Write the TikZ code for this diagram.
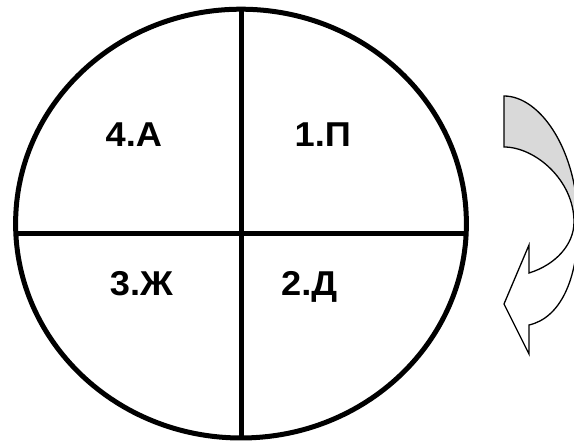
\documentclass[tikz,border=0pt]{standalone}
\usepackage{fontspec}
\setmainfont{Liberation Sans}
\definecolor{arrowgray}{HTML}{D9D9D9}
\newcommand\arrowoutline{(504,96) .. controls (540,96) and (578,150) .. (578,225) .. controls (578,280) and (560,318) .. (529,325) -- (529,354) -- (504,304) -- (529,245) -- (529,273) .. controls (555,265) and (574,245) .. (574,222) .. controls (574,180) and (535,147) .. (504,147) -- cycle}
\begin{document}
\begin{tikzpicture}[x=1pt,y=-1pt,
  lbl/.style={anchor=base west, inner sep=0pt, font=\fontsize{34.5}{40}\selectfont\bfseries},
  thick line/.style={line width=5pt}]
\useasboundingbox (0,0) rectangle (574,443);
\clip (0,0) rectangle (574,443);
\fill[white] (0,0) rectangle (574,443);
% circle divided into quarters
\draw[thick line] (241,223.6) ellipse [x radius=225.4, y radius=214.4];
\coordinate (top) at (241,9.2);
\coordinate (bot) at (241,438);
\coordinate (lft) at (16,234);
\coordinate (rgt) at (466,234);
\draw[thick line] (top) -- (bot);
\draw[thick line] (lft) -- (rgt);
\node[lbl] (a4) at (105.5,147) {\scalebox{1.05}[1]{4.А}};
\node[lbl] (p1) at (294.5,147) {\scalebox{1.05}[1]{1.П}};
\node[lbl] (z3) at (109.7,295.5) {\scalebox{1.05}[1]{3.Ж}};
\node[lbl] (d2) at (281,295.5) {\scalebox{1.05}[1]{2.Д}};
% curved arrow
\fill[white] \arrowoutline;
\begin{scope}
  \clip (480,80) rectangle (580,224);
  \fill[arrowgray] \arrowoutline;
\end{scope}
\draw[line width=1.3pt, line join=miter] \arrowoutline;
\end{tikzpicture}
\end{document}
